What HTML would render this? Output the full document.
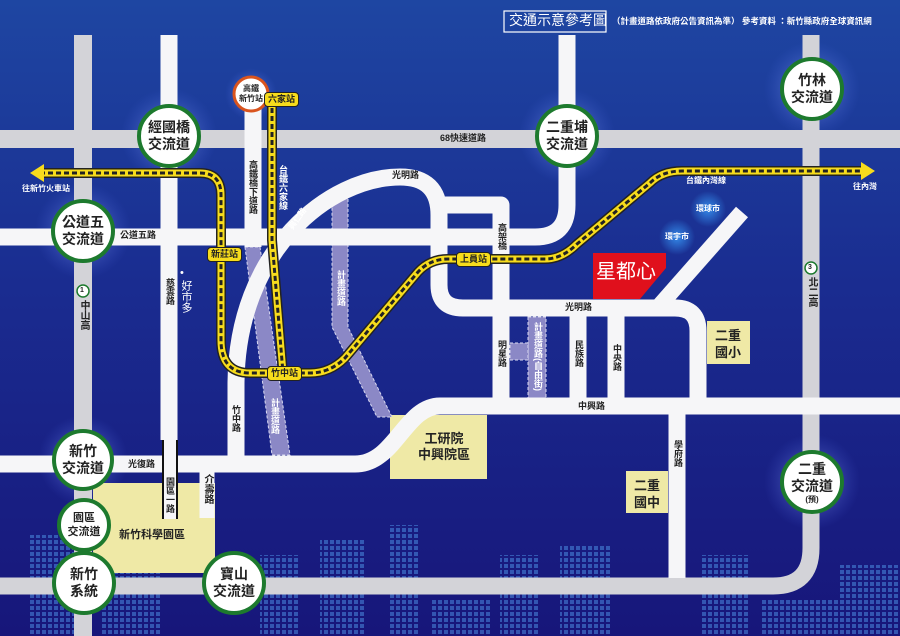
<!DOCTYPE html>
<html><head><meta charset="utf-8">
<style>
html,body{margin:0;padding:0}
#w{position:relative;width:900px;height:636px;overflow:hidden;font-family:"Liberation Sans","Noto Sans CJK TC",sans-serif;background:#1a2f92}
svg{position:absolute;left:0;top:0}
.t{position:absolute;color:#222;font-size:9px;font-weight:bold;line-height:1;white-space:nowrap}
.v{writing-mode:vertical-rl;letter-spacing:0px}
.c{position:absolute;font-size:14px;font-weight:bold;color:#222;text-align:center;line-height:17px;white-space:nowrap}
.st{position:absolute;background:#f7dc1c;border:1px solid #222;border-radius:4px;font-size:9px;font-weight:bold;color:#222;padding:1px 3px;line-height:11px}
</style></head><body><div id="w">
<svg width="900" height="636" viewBox="0 0 900 636">
<defs>
<linearGradient id="bg" x1="0" y1="0" x2="0" y2="1">
<stop offset="0" stop-color="#1e46a2"/><stop offset="0.45" stop-color="#1a2c90"/><stop offset="1" stop-color="#17167a"/></linearGradient>
<radialGradient id="gl"><stop offset="0" stop-color="#fff" stop-opacity="0.55"/><stop offset="0.5" stop-color="#9ab0ff" stop-opacity="0.25"/><stop offset="1" stop-color="#5070ff" stop-opacity="0"/></radialGradient>
<radialGradient id="bl"><stop offset="0" stop-color="#3aa0ff" stop-opacity="0.8"/><stop offset="1" stop-color="#3aa0ff" stop-opacity="0"/></radialGradient>
<pattern id="dots" width="6" height="6" patternUnits="userSpaceOnUse"><rect width="4" height="4" fill="#5ab0ff" opacity="0.55"/></pattern>
</defs>
<rect width="900" height="636" fill="url(#bg)"/>
<!-- skyline -->
<g opacity="0.75">
<rect x="30" y="535" width="45" height="101" fill="url(#dots)"/>
<rect x="100" y="560" width="60" height="76" fill="url(#dots)"/>
<rect x="260" y="555" width="40" height="81" fill="url(#dots)"/>
<rect x="320" y="540" width="45" height="96" fill="url(#dots)"/>
<rect x="390" y="525" width="30" height="111" fill="url(#dots)"/>
<rect x="500" y="555" width="40" height="81" fill="url(#dots)"/>
<rect x="560" y="545" width="50" height="91" fill="url(#dots)"/>
<rect x="700" y="555" width="50" height="81" fill="url(#dots)"/>
<rect x="840" y="565" width="60" height="71" fill="url(#dots)"/>
<rect x="760" y="600" width="80" height="36" fill="url(#dots)"/>
<rect x="430" y="600" width="60" height="36" fill="url(#dots)"/>
</g>
<!-- glows -->
<circle cx="169" cy="136" r="48" fill="url(#gl)"/><circle cx="83" cy="231" r="48" fill="url(#gl)"/>
<circle cx="567" cy="136" r="48" fill="url(#gl)"/><circle cx="812" cy="89" r="48" fill="url(#gl)"/>
<circle cx="83" cy="460" r="45" fill="url(#gl)"/><circle cx="812" cy="482" r="48" fill="url(#gl)"/>
<circle cx="251" cy="94" r="26" fill="url(#gl)"/>
<circle cx="708" cy="209" r="18" fill="url(#bl)"/><circle cx="677" cy="237" r="18" fill="url(#bl)"/>
<!-- areas -->
<rect x="93" y="483" width="122" height="90" fill="#efe9a6"/>
<rect x="390" y="415" width="97" height="64" fill="#efe9a6"/>
<rect x="707" y="321" width="43" height="43" fill="#efe9a6"/>
<rect x="626" y="471" width="42" height="42" fill="#efe9a6"/>
<!-- planned roads -->
<g fill="#8b88c6" stroke="#d8d8f0" stroke-width="1" stroke-dasharray="3 2">
<polygon points="332,195 348,195 348,327 392,417 377,417 332,327"/>
<polygon points="245,247 260,247 290,455 272,455"/>
<rect x="528" y="317" width="18" height="81"/>
<rect x="510" y="343" width="18" height="17"/>
</g>
<!-- gray highways -->
<g fill="none" stroke="#d3d3d8" stroke-width="18">
<path d="M0 139 H900"/><path d="M83 35 V636"/>
<path d="M811 35 V548 Q811 586 773 586 H0" stroke-width="17"/>
</g>
<!-- white roads -->
<g fill="none" stroke="#f6f6f8" stroke-width="17" stroke-linejoin="round">
<path d="M169 35 V440"/>
<path d="M253 100 V247"/>
<path d="M567 35 V205 Q567 237 535 237 H0"/>
<path d="M236 464 V385 C236 250 330 177 400 177 Q439 177 439 215 V285 Q439 308 463 308 H675 Q698 308 698 331 V406"/>
<path d="M439 205 H501 V406"/>
<path d="M900 406 H440 C405 406 395 464 355 464 H0"/>
<path d="M578 308 V406"/><path d="M616 308 V406"/>
<path d="M677 406 V578"/>
<path d="M742 212 L660 305" stroke-width="16"/>
<path d="M207 464 V518" stroke-width="15"/>
</g>
<path d="M170 440 V519" stroke="#111" stroke-width="16"/>
<path d="M170 440 V519" stroke="#f6f6f8" stroke-width="12"/>
<!-- 星都心 -->
<polygon points="593,253 666,253 666,268 640,299 593,299" fill="#e0101c"/>
<!-- rail -->
<g fill="none" stroke-linejoin="round">
<path id="r1" d="M40 173 H200 Q221 173 221 195 V340 Q221 373 250 373 H310 Q330 373 345 358 L418 272 Q430 259 448 259 H545 Q562 259 577 244 L650 183 Q662 171 682 171 H862" stroke="#222" stroke-width="10"/>
<path d="M272 100 V240 L283 373" stroke="#222" stroke-width="10"/>
<path d="M40 173 H200 Q221 173 221 195 V340 Q221 373 250 373 H310 Q330 373 345 358 L418 272 Q430 259 448 259 H545 Q562 259 577 244 L650 183 Q662 171 682 171 H862" stroke="#f7dc1c" stroke-width="7"/>
<path d="M272 100 V240 L283 373" stroke="#f7dc1c" stroke-width="7"/>
<path d="M40 173 H200 Q221 173 221 195 V340 Q221 373 250 373 H310 Q330 373 345 358 L418 272 Q430 259 448 259 H545 Q562 259 577 244 L650 183 Q662 171 682 171 H862" stroke="#222" stroke-width="3" stroke-dasharray="5 3"/>
<path d="M272 100 V240 L283 373" stroke="#222" stroke-width="3" stroke-dasharray="5 3"/>
</g>
<polygon points="30,173 44,164 44,182" fill="#f7dc1c"/>
<polygon points="875,171 861,162 861,180" fill="#f7dc1c"/>
<!-- circles -->
<g fill="#fff" stroke="#1d7a2e" stroke-width="4">
<circle cx="169" cy="136" r="30"/><circle cx="83" cy="231" r="30"/>
<circle cx="567" cy="136" r="30"/><circle cx="812" cy="89" r="30"/>
<circle cx="83" cy="460" r="29"/><circle cx="84" cy="525" r="25"/>
<circle cx="84" cy="583" r="30"/><circle cx="234" cy="583" r="30"/>
<circle cx="812" cy="482" r="30"/>
</g>
<circle cx="251" cy="94" r="17" fill="#fff" stroke="#d9541e" stroke-width="3"/>
<!-- shields -->
<circle cx="83" cy="291" r="6" fill="#fff" stroke="#1d7a2e" stroke-width="1.5"/>
<circle cx="811" cy="268" r="6" fill="#fff" stroke="#1d7a2e" stroke-width="1.5"/>
<!-- title box -->
<rect x="504" y="11" width="102" height="21" fill="none" stroke="#fff" stroke-width="1.2"/>
</svg>

<div class="t" style="left:509px;top:13px;font-size:14px;color:#fff;font-weight:normal">交通示意參考圖</div>
<div class="t" style="left:612px;top:17px;font-size:8.5px;color:#fff">（計畫道路依政府公告資訊為準） 參考資料 ：新竹縣政府全球資訊網</div>

<div class="c" style="left:139px;top:119px;width:60px">經國橋<br>交流道</div>
<div class="c" style="left:53px;top:214px;width:60px">公道五<br>交流道</div>
<div class="c" style="left:537px;top:119px;width:60px">二重埔<br>交流道</div>
<div class="c" style="left:782px;top:72px;width:60px">竹林<br>交流道</div>
<div class="c" style="left:53px;top:443px;width:60px">新竹<br>交流道</div>
<div class="c" style="left:59px;top:511px;width:50px;font-size:11px;line-height:14px">園區<br>交流道</div>
<div class="c" style="left:54px;top:566px;width:60px">新竹<br>系統</div>
<div class="c" style="left:204px;top:566px;width:60px">寶山<br>交流道</div>
<div class="c" style="left:782px;top:461px;width:60px">二重<br>交流道<br><span style="font-size:8px;line-height:10px;display:block">(預)</span></div>
<div class="t" style="left:239px;top:84px;font-size:8px;text-align:center;width:24px;line-height:10px">高鐵<br>新竹站</div>

<div class="st" style="left:264px;top:92px">六家站</div>
<div class="st" style="left:207px;top:247px">新莊站</div>
<div class="st" style="left:267px;top:366px">竹中站</div>
<div class="st" style="left:456px;top:252px">上員站</div>

<div class="t" style="left:596px;top:262px;font-size:20px;color:#fff;font-weight:normal">星都心</div>

<div class="t" style="left:440px;top:134px">68快速道路</div>
<div class="t" style="left:22px;top:185px;color:#fff;font-size:8px">往新竹火車站</div>
<div class="t" style="left:120px;top:231px">公道五路</div>
<div class="t" style="left:392px;top:171px">光明路</div>
<div class="t" style="left:565px;top:303px">光明路</div>
<div class="t" style="left:578px;top:402px">中興路</div>
<div class="t" style="left:128px;top:460px">光復路</div>
<div class="t" style="left:686px;top:177px;color:#fff;font-size:8px">台鐵內灣線</div>
<div class="t" style="left:853px;top:183px;color:#fff;font-size:8px">往內灣</div>
<div class="t" style="left:696px;top:205px;color:#fff;font-size:8px">環球市</div>
<div class="t" style="left:665px;top:233px;color:#fff;font-size:8px">環宇市</div>
<div class="t" style="left:119px;top:530px;font-size:11px">新竹科學園區</div>
<div class="t" style="left:418px;top:431px;font-size:13px;line-height:16px;text-align:center">工研院<br>中興院區</div>
<div class="t" style="left:715px;top:327px;font-size:13px;line-height:17px">二重<br>國小</div>
<div class="t" style="left:634px;top:477px;font-size:13px;line-height:17px">二重<br>國中</div>
<div class="t" style="left:286px;top:215px;font-size:8px;color:#fff;transform:rotate(-55deg)">興仁路</div>
<div class="t" style="left:180px;top:268px;font-size:11px;color:#fff;font-weight:normal">•</div>
<div class="t" style="left:80px;top:287px;font-size:7px">1</div>
<div class="t" style="left:808px;top:264px;font-size:7px">3</div>

<div class="t v" style="left:248px;top:160px">高鐵橋下道路</div>
<div class="t v" style="left:278px;top:165px;color:#fff">台鐵六家線</div>
<div class="t v" style="left:165px;top:278px">慈雲路</div>
<div class="t v" style="left:180px;top:280px;color:#fff;font-size:11px;font-weight:normal">好市多</div>
<div class="t v" style="left:78px;top:300px;font-size:10px">中山高</div>
<div class="t v" style="left:336px;top:270px;color:#fff">計畫道路</div>
<div class="t v" style="left:497px;top:223px">高架橋</div>
<div class="t v" style="left:497px;top:340px">明星路</div>
<div class="t v" style="left:533px;top:322px;color:#fff">計畫道路(自由街)</div>
<div class="t v" style="left:574px;top:340px">民族路</div>
<div class="t v" style="left:612px;top:344px">中央路</div>
<div class="t v" style="left:231px;top:405px">竹中路</div>
<div class="t v" style="left:270px;top:398px;color:#fff">計畫道路</div>
<div class="t v" style="left:165px;top:477px">園區一路</div>
<div class="t v" style="left:202px;top:474px;font-size:10px">介壽路</div>
<div class="t v" style="left:673px;top:440px">學府路</div>
<div class="t v" style="left:806px;top:277px;font-size:10px">北二高</div>
</div></body></html>
